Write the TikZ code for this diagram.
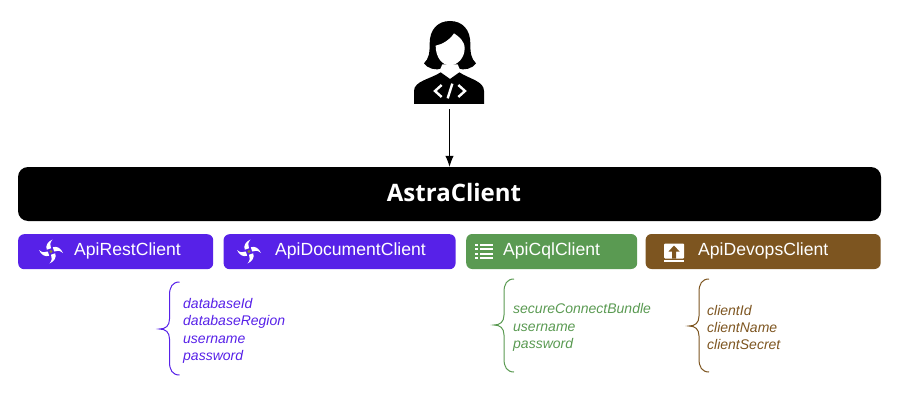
\documentclass[tikz,border=0pt]{standalone}
\usepackage{fontspec}
\setmainfont{Liberation Sans}
\newfontfamily\titlefont{Open Sans}
\usetikzlibrary{positioning,arrows.meta}
\definecolor{restblue}{HTML}{5721E8}
\definecolor{cqlgreen}{HTML}{5A9A52}
\definecolor{devopsbrown}{HTML}{7D5520}
\newcommand{\paramBrace}[5]{%
  \draw[#1, line width=1pt] (#2+10,#3) .. controls (#2+3,#3) and (#2,#3+5) .. (#2,#3+13)
    -- (#2,#4-10) .. controls (#2,#4-3) and (#2-4,#4) .. (#2-10,#4)
    .. controls (#2-4,#4) and (#2,#4+3) .. (#2,#4+10)
    -- (#2,#5-13) .. controls (#2,#5-5) and (#2+3,#5) .. (#2+10,#5);}
\begin{document}
\begin{tikzpicture}[
  x=1pt, y=-1pt,
  node distance=10pt,
  clientbox/.style={rounded corners=6pt, minimum height=35pt, inner sep=0pt, anchor=north west},
  clientlabel/.style={text=white, font=\fontsize{17.6}{20}\selectfont, anchor=base west, inner sep=0pt},
  param/.style={font=\fontsize{14}{17.4}\selectfont\itshape, align=left, anchor=west, inner sep=0pt},
  arr/.style={-{Latex[length=11pt,width=8.5pt]}, line width=1pt},
  swirl/.pic={
    \foreach \a in {0,90,180,270}
      \fill[white, rotate=\a] (0,-3.2) .. controls (-1.5,-6) and (-1,-9) .. (1.5,-12)
        .. controls (-3,-10) and (-6,-6) .. (-4.2,-1.8) -- cycle;
    \fill[olive!70!gray] (0,0) circle (1.6);
  }
]
\useasboundingbox (0,0) rectangle (900,404);

% user
\node[minimum width=70pt, minimum height=88pt, inner sep=0pt] (user) at (449.5,62) {};
\begin{scope}[shift={(409,15)}, scale=1/3]
  \fill[black] (123,18) .. controls (85,18) and (62,45) .. (62,85)
    .. controls (62,115) and (60,130) .. (45,145)
    .. controls (55,160) and (80,168) .. (100,160)
    -- (146,160) .. controls (166,168) and (191,160) .. (201,145)
    .. controls (186,130) and (184,115) .. (184,85)
    .. controls (184,45) and (161,18) .. (123,18) -- cycle;
  \fill[white] (80,92) .. controls (100,88) and (122,75) .. (135,55)
    .. controls (150,65) and (167,78) .. (167,100)
    .. controls (167,128) and (146,151) .. (123,151)
    .. controls (100,151) and (80,128) .. (80,92) -- cycle;
  \fill[white] (100,148) -- (146,148) -- (152,162) -- (162,170) -- (123,195) -- (84,170) -- (94,162) -- cycle;
  \fill[black] (15,267) -- (15,228) .. controls (15,198) and (65,192) .. (95,172)
    -- (123,192) -- (151,172) .. controls (181,192) and (225,198) .. (225,228)
    -- (225,267) -- cycle;
  \draw[white, line width=2.4pt] (98,210) -- (78,228) -- (98,246);
  \draw[white, line width=2.4pt] (148,210) -- (168,228) -- (148,246);
  \draw[white, line width=2.4pt] (130,206) -- (116,250);
\end{scope}

% main client
\node[fill=black, rounded corners=10pt, minimum width=863pt, minimum height=54pt, inner sep=0pt] (astra) at (449.5,194) {};
\node[text=white, inner sep=0pt, font=\titlefont\bfseries\fontsize{24}{28}\selectfont] (astralabel) at (454,192) {AstraClient};
\draw[arr] (user.south |- 0,109) -- (astra.north);

% sub clients
\node[clientbox, fill=restblue, minimum width=195pt] (rest) at (18,234) {};
\node[clientbox, fill=restblue, minimum width=232pt, right=10pt of rest, anchor=west] (doc) {};
\node[clientbox, fill=cqlgreen, minimum width=171pt, anchor=west] (cql) at (466,251.5) {};
\node[clientbox, fill=devopsbrown, minimum width=235pt, right=8pt of cql, anchor=west] (devops) {};

\node[clientlabel] (restlabel) at (74,255.8) {ApiRestClient};
\node[clientlabel] (doclabel) at (275,255.8) {ApiDocumentClient};
\node[clientlabel] (cqllabel) at (503,255.8) {ApiCqlClient};
\node[clientlabel] (devopslabel) at (698,255.8) {ApiDevopsClient};

% icons
\pic at (51,251.5) {swirl};
\pic at (249,251.5) {swirl};
\foreach \y in {244.5,249,253.5,258} {
  \fill[white] (474.5,\y-1) rectangle (477.5,\y+1);
  \fill[white] (479.5,\y-1) rectangle (493,\y+1);
}
\fill[white, rounded corners=1pt] (664,243.5) rectangle (684,258.5);
\fill[white] (664,260) rectangle (684,261.5);
\fill[devopsbrown] (674,245.5) -- (679.5,251.5) -- (676,251.5) -- (676,258.5) -- (672,258.5) -- (672,251.5) -- (668.5,251.5) -- cycle;

% parameters
\paramBrace{restblue}{169.5}{282}{329}{375}
\paramBrace{cqlgreen}{504}{279}{325}{372}
\paramBrace{devopsbrown}{699}{279}{326}{372}
\node[param, text=restblue] (restparams) at (183,331) {databaseId\\databaseRegion\\username\\password};
\node[param, text=cqlgreen] (cqlparams) at (513,327.5) {secureConnectBundle\\username\\password};
\node[param, text=devopsbrown] (devopsparams) at (707,327.5) {clientId\\clientName\\clientSecret};
\end{tikzpicture}
\end{document}
